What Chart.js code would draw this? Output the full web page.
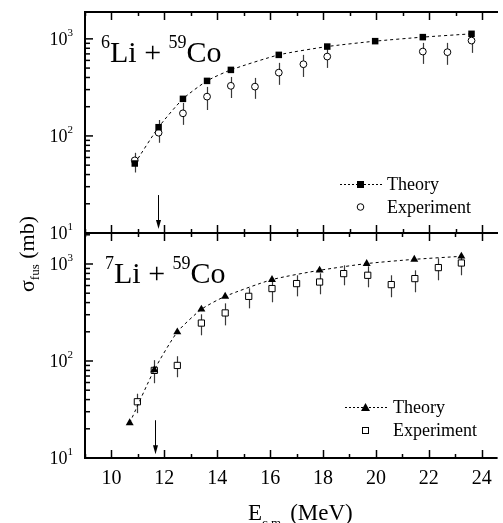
<!DOCTYPE html>
<html><head><meta charset="utf-8">
<script src="https://cdn.jsdelivr.net/npm/chart.js@4.4.0/dist/chart.umd.min.js"></script>
<style>
html,body{margin:0;padding:0;background:#fff;}
#wrap{position:relative;width:503px;height:523px;overflow:hidden;background:#fff;}
canvas{position:absolute;left:0;top:0;}
</style></head><body>
<div id="wrap"><canvas id="cBot" width="503" height="523"></canvas><canvas id="cTop" width="503" height="523"></canvas></div>
<script>
// ---------- data ----------
const xMajorTicks = [10, 12, 14, 16, 18, 20, 22, 24];
const xMinorTicks = [9, 11, 13, 15, 17, 19, 21, 23];
const yDecades = [10, 100, 1000];
const yDecadeExp = ['1', '2', '3'];

// 6Li + 59Co
const theoryTopE = [10.88, 11.78, 12.70, 13.61, 14.51, 16.32, 18.15, 19.96, 21.76, 23.60];
const theoryTopS = [52, 123, 241, 369, 479, 684, 833, 947, 1042, 1127];
const expTopE  = [10.88, 11.78, 12.70, 13.61, 14.51, 15.42, 16.32, 17.25, 18.15, 21.76, 22.69, 23.60];
const expTopS  = [56, 108, 171, 254, 328, 322, 449, 548, 657, 740, 729, 960];
const expTopHi = [67, 146, 219, 320, 405, 396, 566, 684, 827, 909, 909, 1099];
const expTopLo = [42, 85, 130, 185, 246, 241, 336, 405, 502, 552, 540, 717];
const arrowTop = {e: 11.75, from: 24.6, to: 11};

// 7Li + 59Co
const theoryBotE = [10.69, 11.62, 12.49, 13.40, 14.30, 16.07, 17.87, 19.65, 21.45, 23.23];
const theoryBotS = [23, 81, 199, 341, 464, 690, 861, 1010, 1117, 1200];
const expBotE  = [10.98, 11.62, 12.49, 13.40, 14.30, 15.19, 16.07, 17.00, 17.87, 18.78, 19.69, 20.58, 21.47, 22.36, 23.23];
const expBotS  = [38, 80, 90, 246, 313, 464, 558, 628, 652, 796, 765, 613, 707, 918, 1024];
const expBotHi = [46, 102, 112, 303, 393, 562, 679, 765, 802, 970, 947, 765, 861, 1145, 1259];
const expBotLo = [29, 59, 68, 184, 233, 349, 403, 464, 487, 603, 575, 454, 511, 679, 765];
const arrowBot = {e: 11.66, from: 24.5, to: 10.9};

const xMin = 9, xMax = 24.6;
const yMin = 10, yMaxTop = 1891, yMaxBot = 2087;

// ---------- helpers ----------
const SERIF = '"Liberation Serif","Times New Roman",serif';
function rich(ctx, x, y, parts, align) {
  let total = 0;
  parts.forEach(p => { ctx.font = p.size + 'px ' + SERIF; p.w = ctx.measureText(p.text).width; total += p.w; });
  let cx = align === 'right' ? x - total : align === 'center' ? x - total / 2 : x;
  ctx.textAlign = 'left'; ctx.textBaseline = 'alphabetic';
  parts.forEach(p => { ctx.font = p.size + 'px ' + SERIF; ctx.fillText(p.text, cx, y + (p.dy || 0)); cx += p.w; });
}
function pts(E, S) { return E.map((e, i) => ({x: e, y: S[i]})); }

function drawErrorBars(chart, E, lo, hi) {
  const ctx = chart.ctx, xs = chart.scales.x, ys = chart.scales.y;
  ctx.save(); ctx.strokeStyle = '#3a3a3a'; ctx.lineWidth = 1.2;
  E.forEach((e, i) => {
    const x = Math.round(xs.getPixelForValue(e)) + 0.5;
    ctx.beginPath(); ctx.moveTo(x, ys.getPixelForValue(hi[i])); ctx.lineTo(x, ys.getPixelForValue(lo[i])); ctx.stroke();
  });
  ctx.restore();
}
function drawArrow(chart, a) {
  const ctx = chart.ctx, xs = chart.scales.x, ys = chart.scales.y;
  const x = Math.round(xs.getPixelForValue(a.e)) + 0.5;
  const y1 = ys.getPixelForValue(a.from), y2 = ys.getPixelForValue(a.to);
  ctx.save(); ctx.strokeStyle = '#000'; ctx.fillStyle = '#000'; ctx.lineWidth = 1;
  ctx.beginPath(); ctx.moveTo(x, y1); ctx.lineTo(x, y2 - 6); ctx.stroke();
  ctx.beginPath(); ctx.moveTo(x, y2); ctx.lineTo(x - 2.5, y2 - 9); ctx.lineTo(x + 2.5, y2 - 9); ctx.closePath(); ctx.fill();
  ctx.restore();
}
function drawYAxis(chart, yMax) {
  const ctx = chart.ctx, ys = chart.scales.y, a = chart.chartArea;
  ctx.save(); ctx.strokeStyle = '#000'; ctx.lineWidth = 2;
  ctx.beginPath(); ctx.moveTo(a.left, a.top - 1); ctx.lineTo(a.left, a.bottom + 1); ctx.stroke();
  ctx.lineWidth = 1.5;
  yDecades.forEach((d, i) => {
    const y = ys.getPixelForValue(d);
    ctx.beginPath(); ctx.moveTo(a.left, y); ctx.lineTo(a.left + 8, y); ctx.stroke();
    for (let m = 2; m <= 9; m++) {
      const v = d * m; if (v >= yMax) break;
      const ym = ys.getPixelForValue(v);
      ctx.beginPath(); ctx.moveTo(a.left, ym); ctx.lineTo(a.left + 5, ym); ctx.stroke();
    }
    ctx.fillStyle = '#000';
    rich(ctx, 73, y + 6, [{text: '10', size: 18}, {text: yDecadeExp[i], size: 11, dy: -9}], 'right');
  });
  ctx.restore();
}
function hLine(chart, y) {
  const ctx = chart.ctx, a = chart.chartArea;
  ctx.save(); ctx.strokeStyle = '#000'; ctx.lineWidth = 2;
  ctx.beginPath(); ctx.moveTo(a.left - 1, y); ctx.lineTo(a.right, y); ctx.stroke(); ctx.restore();
}
function xTicks(chart, y, upMaj, downMaj, upMin, downMin) {
  const ctx = chart.ctx, xs = chart.scales.x;
  ctx.save(); ctx.strokeStyle = '#000'; ctx.lineWidth = 1.5;
  xMajorTicks.forEach(v => { const x = Math.round(xs.getPixelForValue(v)) + 0.5;
    ctx.beginPath(); ctx.moveTo(x, y - upMaj); ctx.lineTo(x, y + downMaj); ctx.stroke(); });
  xMinorTicks.forEach(v => { const x = Math.round(xs.getPixelForValue(v)) + 0.5;
    ctx.beginPath(); ctx.moveTo(x, y - upMin); ctx.lineTo(x, y + downMin); ctx.stroke(); });
  ctx.restore();
}

const topPlugin = {
  id: 'topDecor',
  beforeDatasetsDraw(chart) { drawErrorBars(chart, expTopE, expTopLo, expTopHi); },
  afterDraw(chart) {
    const ctx = chart.ctx, a = chart.chartArea;
    drawArrow(chart, arrowTop);
    hLine(chart, a.top); hLine(chart, a.bottom);
    xTicks(chart, a.top, 0, 8, 0, 4);
    xTicks(chart, a.bottom, 8, 0, 4, 0);
    drawYAxis(chart, yMaxTop);
    ctx.save(); ctx.fillStyle = '#000';
    rich(ctx, 101, 62, [{text: '6', size: 18, dy: -14}, {text: 'Li + ', size: 30}, {text: '59', size: 18, dy: -14}, {text: 'Co', size: 30}], 'left');
    // legend
    ctx.strokeStyle = '#000'; ctx.lineWidth = 1; ctx.setLineDash([2, 2]);
    ctx.beginPath(); ctx.moveTo(340, 184.5); ctx.lineTo(382, 184.5); ctx.stroke(); ctx.setLineDash([]);
    ctx.fillRect(357, 181, 7, 7);
    ctx.fillStyle = '#fff'; ctx.beginPath(); ctx.arc(360.5, 207, 3.3, 0, Math.PI * 2); ctx.fill(); ctx.stroke();
    ctx.fillStyle = '#000';
    rich(ctx, 387, 190, [{text: 'Theory', size: 18}], 'left');
    rich(ctx, 387, 213, [{text: 'Experiment', size: 18}], 'left');
    ctx.restore();
  }
};
const botPlugin = {
  id: 'botDecor',
  beforeDatasetsDraw(chart) { drawErrorBars(chart, expBotE, expBotLo, expBotHi); },
  afterDraw(chart) {
    const ctx = chart.ctx, a = chart.chartArea, xs = chart.scales.x;
    drawArrow(chart, arrowBot);
    hLine(chart, a.top); hLine(chart, a.bottom);
    xTicks(chart, a.top, 0, 8, 0, 4);
    xTicks(chart, a.bottom, 8, 0, 4, 0);
    drawYAxis(chart, yMaxBot);
    ctx.save(); ctx.fillStyle = '#000';
    xMajorTicks.forEach(v => rich(ctx, xs.getPixelForValue(v), 484, [{text: String(v), size: 20}], 'center'));
    rich(ctx, 105, 283, [{text: '7', size: 18, dy: -14}, {text: 'Li + ', size: 30}, {text: '59', size: 18, dy: -14}, {text: 'Co', size: 30}], 'left');
    // x title
    rich(ctx, 248, 520, [{text: 'E', size: 23}, {text: 'c.m.', size: 13, dy: 7}, {text: ' (MeV)', size: 23}], 'left');
    // y title
    ctx.save(); ctx.translate(34, 254); ctx.rotate(-Math.PI / 2);
    rich(ctx, 0, 0, [{text: 'σ', size: 22}, {text: 'fus', size: 13, dy: 5}, {text: ' (mb)', size: 22}], 'center');
    ctx.restore();
    // legend
    ctx.strokeStyle = '#000'; ctx.lineWidth = 1; ctx.setLineDash([2, 2]);
    ctx.beginPath(); ctx.moveTo(345, 407.5); ctx.lineTo(388, 407.5); ctx.stroke(); ctx.setLineDash([]);
    ctx.beginPath(); ctx.moveTo(365.5, 403); ctx.lineTo(361, 411); ctx.lineTo(370, 411); ctx.closePath(); ctx.fill();
    ctx.fillStyle = '#fff'; ctx.fillRect(362.5, 427.5, 6, 6); ctx.strokeRect(362.5, 427.5, 6, 6);
    ctx.fillStyle = '#000';
    rich(ctx, 393, 413, [{text: 'Theory', size: 18}], 'left');
    rich(ctx, 393, 436, [{text: 'Experiment', size: 18}], 'left');
    ctx.restore();
  }
};

function baseOptions(padTop, padBottom, yMax) {
  return {
    responsive: false, animation: false, devicePixelRatio: 1,
    layout: {padding: {left: 85, right: 0, top: padTop, bottom: padBottom}},
    plugins: {legend: {display: false}, tooltip: {enabled: false}},
    scales: {
      x: {type: 'linear', min: xMin, max: xMax, display: false},
      y: {type: 'logarithmic', min: yMin, max: yMax, display: false}
    }
  };
}

new Chart(document.getElementById('cTop'), {
  type: 'line',
  data: {datasets: [
    {label: 'Theory', data: pts(theoryTopE, theoryTopS), borderColor: '#000', borderWidth: 1, borderDash: [3, 3],
     pointStyle: 'rect', pointRadius: 4.6, pointBackgroundColor: '#000', pointBorderColor: '#000', pointBorderWidth: 0, tension: 0.2, order: 1},
    {label: 'Experiment', data: pts(expTopE, expTopS), showLine: false, pointStyle: 'circle', pointRadius: 3.4,
     pointBackgroundColor: '#fff', pointBorderColor: '#000', pointBorderWidth: 1, order: 2}
  ]},
  options: baseOptions(12, 523 - 233, yMaxTop),
  plugins: [topPlugin]
});

new Chart(document.getElementById('cBot'), {
  type: 'line',
  data: {datasets: [
    {label: 'Theory', data: pts(theoryBotE, theoryBotS), borderColor: '#000', borderWidth: 1, borderDash: [3, 3],
     pointStyle: 'triangle', pointRadius: 4.6, pointBackgroundColor: '#000', pointBorderColor: '#000', pointBorderWidth: 0, tension: 0.2, order: 1},
    {label: 'Experiment', data: pts(expBotE, expBotS), showLine: false, pointStyle: 'rect', pointRadius: 4.4,
     pointBackgroundColor: '#fff', pointBorderColor: '#000', pointBorderWidth: 1, order: 2}
  ]},
  options: baseOptions(233, 523 - 458, yMaxBot),
  plugins: [botPlugin]
});
</script>
</body></html>
